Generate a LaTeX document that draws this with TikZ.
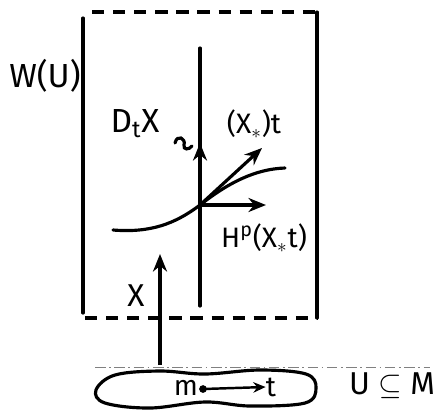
\documentclass[tikz,border=0pt]{standalone}
\usepackage{fontspec}
\setmainfont{Fira Sans}
\usetikzlibrary{arrows.meta}

\begin{document}
\begin{tikzpicture}[x=0.02cm, y=-0.02cm,
  ink/.style={line width=1.8pt, line cap=round},
  dashline/.style={line width=1.8pt, dash pattern=on 7pt off 5pt},
  vec/.style={-{Stealth[length=10pt, width=8pt]}, line width=1.8pt},
  lbl/.style={inner sep=0pt, font=\fontsize{16}{18}\selectfont}
]
\useasboundingbox (0,0) rectangle (439,410);
% the box W(U)
\coordinate (tl) at (92,12);
\coordinate (tr) at (317,12);
\coordinate (bl) at (85,318);
\coordinate (br) at (317,318);
\draw[ink] (83,18) -- (83,313);
\draw[ink] (tr) -- (br);
\draw[dashline] (tl) -- (tr);
\draw[dashline] (bl) -- (br);
\node[lbl, font=\fontsize{19}{22}\selectfont] (W) at (45,76) {W(U)};
% the fibre and the vectors at its point
\coordinate (ftop) at (200,48);
\coordinate (fbot) at (200,306);
\coordinate (o) at (200,205);
\draw[ink] (ftop) -- (fbot);
\coordinate (vup) at (200,143);
\coordinate (vdiag) at (262,148);
\coordinate (vhor) at (266,205);
\draw[vec] (o) -- (vup);
\draw[vec] (o) -- (vdiag);
\draw[vec] (o) -- (vhor);
\draw[ink] (113,230) .. controls (150,233) and (175,224) .. (o)
  .. controls (228,183) and (255,169) .. (285,168);
\node[lbl, font=\fontsize{19}{22}\selectfont] (DX) at (135,124) {D\textsubscript{t}X};
\coordinate (sq) at (175,143);
\draw[ink] (sq) .. controls (177,134) and (186,138) .. (184,145)
  .. controls (183,150) and (189,150) .. (192,146);
\node[lbl] (Xt) at (254,124) {(X\textsubscript{$\ast$})t};
\node[lbl] (H) at (264,238) {H\textsuperscript{p}(X\textsubscript{$\ast$}t)};
% the field X over U
\coordinate (xbase) at (160,365);
\coordinate (xtip) at (160,254);
\draw[vec] (xbase) -- (xtip);
\node[lbl, font=\fontsize{18}{20}\selectfont] (X) at (136,296) {X};
\draw[gray, line width=0.5pt, dash pattern=on 6pt off 2pt on 1pt off 2pt] (95,367) -- (430,367);
\draw[ink] plot[smooth cycle, tension=0.6] coordinates {(96,390) (115,375) (160,371) (205,374) (260,370) (306,374) (316,388) (305,403) (250,406) (205,402) (150,408) (105,403)};
\node[lbl, font=\fontsize{16}{18}\selectfont] (m) at (186,388) {m};
\node[lbl, font=\fontsize{16}{18}\selectfont] (t) at (271,387) {t};
\fill (203,389) circle (2.2pt);
\draw[vec, -{Stealth[length=7pt, width=6pt]}, line width=1.4pt] (203,389) -- (t.west);
\node[lbl, font=\fontsize{18}{20}\selectfont] (U) at (392,386) {U $\subseteq$ M};
\end{tikzpicture}
\end{document}
